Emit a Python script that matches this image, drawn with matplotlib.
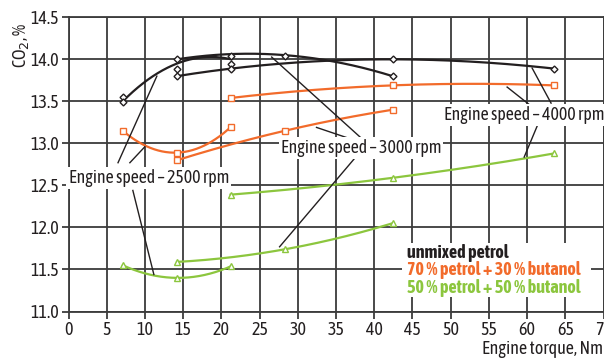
import numpy as np
import matplotlib
matplotlib.use("Agg")
import matplotlib.pyplot as plt
from matplotlib.patches import Rectangle

# ---------------- data ----------------
# unmixed petrol (black)
black_2500_x = [7.1, 14.2, 21.3]
black_2500_y = [13.5, 13.95, 14.0]
black_3000_x = [14.2, 28.3, 42.4]
black_3000_y = [14.0, 14.05, 13.8]
black_4000_x = [14.2, 21.3, 42.4, 63.5]
black_4000_y = [13.8, 13.89, 14.0, 13.89]
black_pts_x = [7.1, 7.1, 14.2, 14.2, 14.2, 21.3, 21.3, 21.3, 28.3, 42.4, 42.4, 63.5]
black_pts_y = [13.55, 13.49, 14.0, 13.89, 13.8, 14.04, 13.95, 13.89, 14.04, 14.0, 13.8, 13.89]

# 70 % petrol + 30 % butanol (orange)
orange_2500_x = [7.1, 14.2, 21.3]
orange_2500_y = [13.15, 12.89, 13.2]
orange_3000_x = [14.2, 28.3, 42.4]
orange_3000_y = [12.8, 13.15, 13.4]
orange_4000_x = [21.2, 42.4, 63.5]
orange_4000_y = [13.54, 13.69, 13.69]

# 50 % petrol + 50 % butanol (green)
green_2500_x = [7.1, 14.2, 21.3]
green_2500_y = [11.55, 11.4, 11.54]
green_3000_x = [14.2, 28.3, 42.4]
green_3000_y = [11.59, 11.74, 12.05]
green_4000_x = [21.2, 42.4, 63.5]
green_4000_y = [12.39, 12.59, 12.88]

x_ticks = list(range(0, 75, 5))
y_ticks = [11.0, 11.5, 12.0, 12.5, 13.0, 13.5, 14.0, 14.5]
legend_labels = ["unmixed petrol", "70 % petrol + 30 % butanol", "50 % petrol + 50 % butanol"]

# ---------------- style ----------------
BLACK = "#231f20"
ORANGE = "#f26b2b"
GREEN = "#8cc63e"
GRID = "#3c3c3c"
FONT = ["Asap Condensed", "DejaVu Sans"]
plt.rcParams["font.family"] = FONT

fig = plt.figure(figsize=(6.04, 3.58), dpi=100)
ax = fig.add_axes([68.5 / 604, 1 - 311.5 / 358, (603.5 - 68.5) / 604, (311.5 - 17.3) / 358])
ax.set_xlim(0, 70)
ax.set_ylim(11.0, 14.5)
ax.set_xticks(x_ticks)
ax.set_yticks(y_ticks)
ax.set_yticklabels([f"{v:.1f}" for v in y_ticks])
ax.grid(True, color=GRID, linewidth=1.3)
ax.set_axisbelow(True)
for s in ax.spines.values():
    s.set_color(GRID)
    s.set_linewidth(1.3)
ax.tick_params(direction="out", length=5, width=1.3, color=GRID, labelsize=13,
               labelcolor="#231f20", pad=2)


def smooth(xs, ys, ax, color, lw=1.6):
    deg = min(len(xs) - 1, 3)
    c = np.polyfit(xs, ys, deg)
    xx = np.linspace(xs[0], xs[-1], 200)
    ax.plot(xx, np.polyval(c, xx), color=color, lw=lw, zorder=3)


for xs, ys in [(black_2500_x, black_2500_y), (black_3000_x, black_3000_y), (black_4000_x, black_4000_y)]:
    smooth(xs, ys, ax, BLACK)
ax.plot(black_pts_x, black_pts_y, ls="none", marker="D", ms=3.5, mfc="white", mec=BLACK, mew=1.0, zorder=4)

for xs, ys in [(orange_2500_x, orange_2500_y), (orange_3000_x, orange_3000_y), (orange_4000_x, orange_4000_y)]:
    smooth(xs, ys, ax, ORANGE)
    ax.plot(xs, ys, ls="none", marker="s", ms=5, mfc="white", mec=ORANGE, mew=1.0, zorder=4)

for xs, ys in [(green_2500_x, green_2500_y), (green_3000_x, green_3000_y), (green_4000_x, green_4000_y)]:
    smooth(xs, ys, ax, GREEN)
    ax.plot(xs, ys, ls="none", marker="^", ms=5, mfc="white", mec=GREEN, mew=1.0, zorder=4)

# leader lines
leaders = [
    ((6.48, 12.77), (11.56, 13.80)),
    ((8.03, 12.77), (9.99, 12.96)),
    ((8.42, 12.44), (11.17, 11.44)),
    ((26.58, 14.027), (38.46, 13.05)),
    ((32.45, 13.19), (37.02, 13.05)),
    ((37.42, 12.82), (27.62, 11.77)),
    ((60.66, 13.896), (63.14, 13.479)),
    ((57.39, 13.67), (60.53, 13.444)),
    ((61.32, 13.206), (59.62, 12.837)),
]
for (x0, y0), (x1, y1) in leaders:
    ax.plot([x0, x1], [y0, y1], color=BLACK, lw=1.0, zorder=5)

box = dict(boxstyle="square,pad=0.12", fc="white", ec="none")
for x, y, t in [(10.5, 12.587, "Engine speed – 2500 rpm"),
                (38.27, 12.944, "Engine speed – 3000 rpm"),
                (59.62, 13.337, "Engine speed – 4000 rpm")]:
    ax.text(x, y, t, ha="center", va="center", fontsize=12.8, color=BLACK, bbox=box, zorder=6)

# legend box
ax.add_patch(Rectangle((43.69, 11.17), 68.3 - 43.69, 11.81 - 11.17, fc="white", ec="none", zorder=6))
for lab, col, y in zip(legend_labels, [BLACK, ORANGE, GREEN], [11.695, 11.49, 11.28]):
    ax.text(44.34, y, lab, ha="left", va="center", fontsize=13, fontweight="bold", color=col, zorder=7)

fig.text(21 / 604, 1 - 45 / 358, "CO$_2$, %", rotation=90, ha="center", va="center", fontsize=13, color=BLACK)
fig.text(603 / 604, 1 - 349 / 358, "Engine torque, Nm", ha="right", va="center", fontsize=13, color=BLACK)

fig.savefig("out.png", dpi=100)
